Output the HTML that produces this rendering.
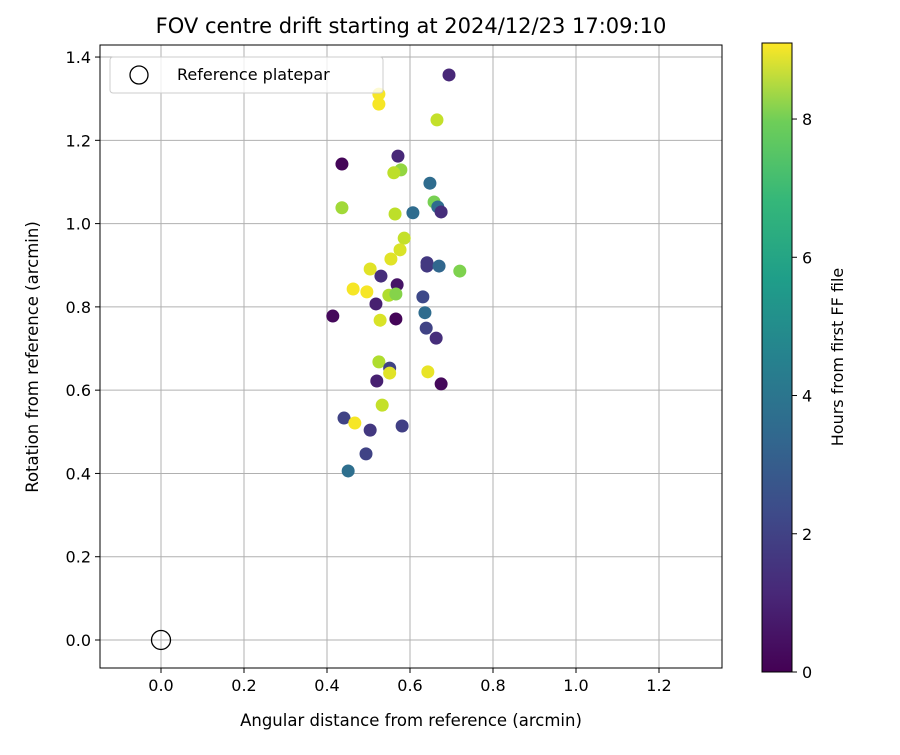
<!DOCTYPE html>
<html><head><meta charset="utf-8"><style>body{margin:0;background:#fff}svg{font-family:"DejaVu Sans","Liberation Sans",sans-serif}</style></head>
<body>
<svg id="c" width="900" height="750" xmlns="http://www.w3.org/2000/svg">
<defs><linearGradient id="vg" x1="0" y1="1" x2="0" y2="0">
<stop offset="0" stop-color="#440154"/><stop offset="0.125" stop-color="#482878"/><stop offset="0.25" stop-color="#3e4a89"/><stop offset="0.375" stop-color="#31688e"/><stop offset="0.5" stop-color="#26828e"/><stop offset="0.625" stop-color="#1f9e89"/><stop offset="0.75" stop-color="#35b779"/><stop offset="0.875" stop-color="#6ece58"/><stop offset="1" stop-color="#fde725"/></linearGradient></defs>
<text x="411" y="33" font-size="21" text-anchor="middle">FOV centre drift starting at 2024/12/23 17:09:10</text>
<g id="grid"></g><g id="pts"></g><g id="axes"></g>
<g>
<rect x="110" y="57" width="273" height="36" fill="#fff" fill-opacity="0.8" stroke="#ccc" rx="3"/>
<circle cx="139" cy="75" r="9" fill="none" stroke="#000" stroke-width="1.3"/>
<text x="177" y="80" font-size="16">Reference platepar</text></g>
<rect x="762" y="43" width="30" height="629" fill="url(#vg)" stroke="#000"/>
<g id="cbt"></g>
<text transform="translate(843,357) rotate(-90)" font-size="16" text-anchor="middle">Hours from first FF file</text>
<text x="411" y="726" font-size="16.5" text-anchor="middle">Angular distance from reference (arcmin)</text>
<text transform="translate(38,357) rotate(-90)" font-size="16.5" text-anchor="middle">Rotation from reference (arcmin)</text>
</svg>
<script>
const xs=[0.694,0.525,0.525,0.665,0.436,0.571,0.578,0.561,0.648,0.658,0.667,0.675,0.436,0.564,0.607,0.586,0.576,0.554,0.641,0.641,0.670,0.720,0.504,0.530,0.569,0.463,0.496,0.549,0.566,0.518,0.631,0.636,0.414,0.528,0.566,0.639,0.663,0.525,0.551,0.551,0.520,0.643,0.675,0.533,0.441,0.467,0.504,0.581,0.494,0.451];
const ys=[1.357,1.311,1.287,1.249,1.143,1.162,1.129,1.122,1.097,1.052,1.040,1.028,1.038,1.023,1.026,0.965,0.937,0.915,0.906,0.898,0.898,0.886,0.891,0.874,0.853,0.843,0.836,0.828,0.831,0.807,0.824,0.786,0.778,0.768,0.771,0.749,0.725,0.668,0.653,0.641,0.622,0.644,0.615,0.564,0.533,0.521,0.504,0.514,0.447,0.406];
const hours=[1.0,9,9,8.3,0.1,1.0,7.6,8.2,3.2,7.2,3.2,1.2,7.8,8.2,3.2,8.3,8.6,8.7,1.5,1.5,3.0,7.3,8.7,1.2,0.5,9,9,8,7.4,0.8,2,3.2,0.2,8.6,0.1,1.8,1.2,8,1.8,8.7,0.8,8.8,0.2,8.3,1.8,9,1.5,1.7,1.8,3.3];
const xTicks=[0,0.2,0.4,0.6,0.8,1.0,1.2], yTicks=[0,0.2,0.4,0.6,0.8,1.0,1.2,1.4], cTicks=[0,2,4,6,8];
const X=v=>161+v*415, Y=v=>640-v*416.4, L=100,R=722,T=45,B=668, HMAX=9.1;
const C=v=>672-v*(629/HMAX);
const vir=[[68,1,84],[72,40,120],[62,74,137],[49,104,142],[38,130,142],[31,158,137],[53,183,121],[110,206,88],[181,222,43],[253,231,37]];
function col(h){let t=Math.max(0,Math.min(1,h/HMAX))*(vir.length-1),i=Math.min(Math.floor(t),vir.length-2),f=t-i;return 'rgb('+[0,1,2].map(k=>Math.round(vir[i][k]+(vir[i+1][k]-vir[i][k])*f)).join(',')+')';}
const ns='http://www.w3.org/2000/svg';
function mk(p,t,a){const e=document.createElementNS(ns,t);for(const k in a)e.setAttribute(k,a[k]);document.getElementById(p).appendChild(e);return e;}
xTicks.forEach(v=>{let e=mk('grid','line',{x1:X(v),x2:X(v),y1:T,y2:B,stroke:'#b0b0b0','stroke-width':1});


mk('axes','line',{x1:X(v),x2:X(v),y1:B,y2:B+5,stroke:'#000'});
let t=mk('axes','text',{x:X(v),y:B+23,'font-size':16,'text-anchor':'middle'});t.textContent=v.toFixed(1);

});
yTicks.forEach(v=>{let e=mk('grid','line',{x1:L,x2:R,y1:Y(v),y2:Y(v),stroke:'#b0b0b0','stroke-width':1});


mk('axes','line',{x1:L-5,x2:L,y1:Y(v),y2:Y(v),stroke:'#000'});
let t=mk('axes','text',{x:L-9,y:Y(v)+6,'font-size':16,'text-anchor':'end'});t.textContent=v.toFixed(1);

});
mk('axes','rect',{x:L,y:T,width:R-L,height:B-T,fill:'none',stroke:'#000','stroke-width':1});
xs.forEach((x,i)=>{let c=mk('pts','circle',{cx:X(x),cy:Y(ys[i]),r:6.5,fill:col(hours[i])});

});
let rc=mk('pts','circle',{cx:X(0),cy:Y(0),r:9.5,fill:'none',stroke:'#000','stroke-width':1.3});


cTicks.forEach(v=>{mk('cbt','line',{x1:792,x2:797,y1:C(v),y2:C(v),stroke:'#000'});
let t=mk('cbt','text',{x:802,y:C(v)+6,'font-size':16});t.textContent=v;

});
</script>
</body></html>
